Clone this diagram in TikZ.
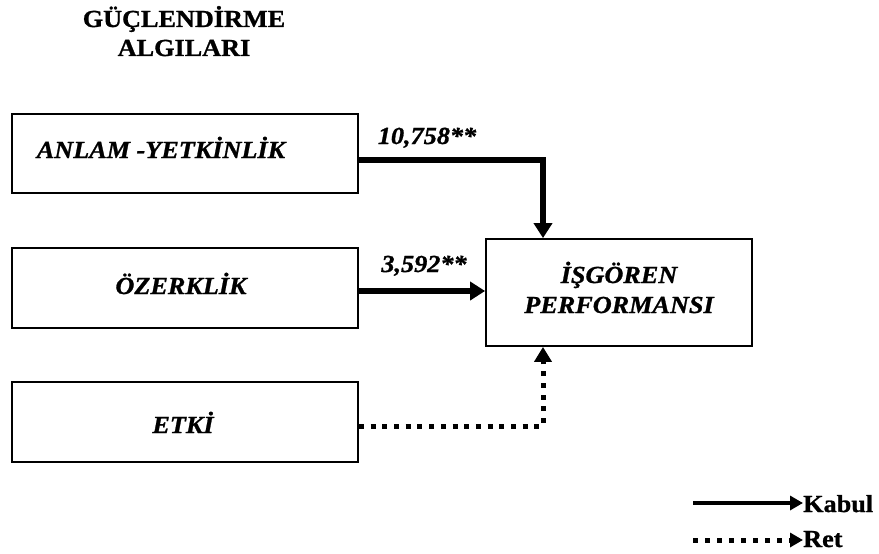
\documentclass[tikz,border=0pt]{standalone}
\usepackage{fontspec}
\setmainfont{Liberation Serif}[FakeStretch=1.07,FakeBold=1]
\usetikzlibrary{arrows.meta}
\begin{document}
\begin{tikzpicture}[x=1pt,y=-1pt,
  box/.style={draw, line width=1.8pt, inner sep=0pt},
  lbl/.style={font=\fontsize{24.5}{30}\selectfont\bfseries\itshape, inner sep=0pt, anchor=base},
  ttl/.style={font=\fontsize{24.5}{30}\selectfont\bfseries, inner sep=0pt, anchor=base},
  acc/.style={line width=5.5pt, -{Triangle[length=15pt,width=18pt]}},
  rej/.style={line width=5pt, dash pattern=on 5pt off 6.7pt, -{Triangle[length=15pt,width=17pt]}},
  legacc/.style={line width=4.5pt, -{Triangle[length=13pt,width=14pt]}},
  legrej/.style={line width=5pt, dash pattern=on 5pt off 7pt, -{Triangle[length=13pt,width=14pt]}},
]
\path[use as bounding box] (0,0) rectangle (879,554);

% title
\node[ttl] (t1) at (184,27) {GÜÇLENDİRME};
\node[ttl] (t2) at (184,56) {ALGILARI};

% boxes
\node[box, minimum width=346pt, minimum height=79pt] (b1) at (185,153.5) {};
\node[box, minimum width=346pt, minimum height=80pt] (b2) at (185,288) {};
\node[box, minimum width=346pt, minimum height=80pt] (b3) at (185,422) {};
\node[box, minimum width=266pt, minimum height=107pt] (perf) at (619,292.5) {};

% box texts
\node[lbl] (l1) at (161,158) {ANLAM -YETKİNLİK};
\node[lbl] (l2) at (181,294) {ÖZERKLİK};
\node[lbl] (l3) at (183,433) {ETKİ};
\node[lbl] (p1) at (619,283) {İŞGÖREN};
\node[lbl] (p2) at (619,313) {PERFORMANSI};

% coefficients
\node[lbl] (c1) at (427,144) {10,758**};
\node[lbl] (c2) at (424,272) {3,592**};

% connectors
\coordinate (j1) at (543,160);
\coordinate (j3) at (543,426);
\draw[acc] (b1.east |- j1) -- (j1) -- (j1 |- perf.north);
\draw[acc] (b2.east |- 0,291) -- (perf.west |- 0,291);
\draw[rej] (b3.east |- j3) -- (j3) -- (j3 |- perf.south);

% legend
\node[ttl, anchor=base west] (kabul) at (803,512) {Kabul};
\node[ttl, anchor=base west] (ret) at (803,547) {Ret};
\coordinate (k0) at (693,503);
\coordinate (r0) at (693,540);
\draw[legacc] (k0) -- (kabul.west |- k0);
\draw[legrej] (r0) -- (ret.west |- r0);
\end{tikzpicture}
\end{document}
